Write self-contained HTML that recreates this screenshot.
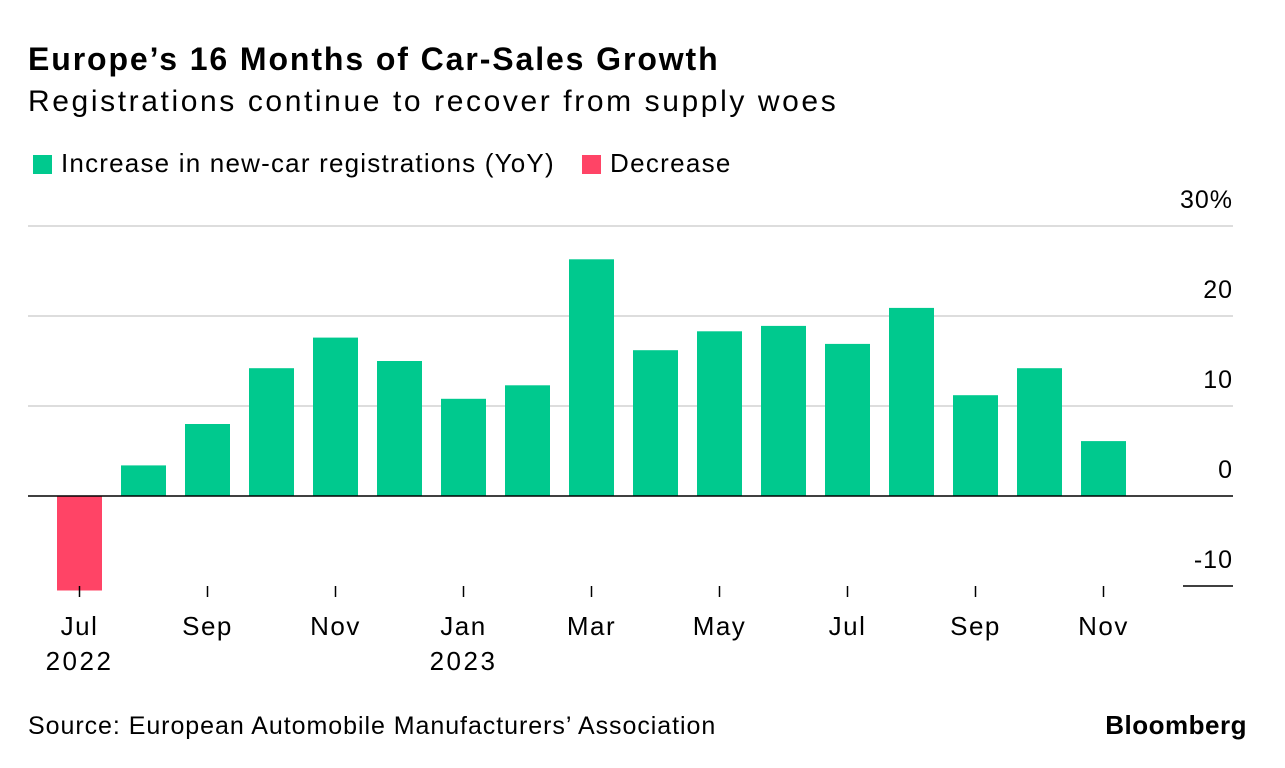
<!DOCTYPE html>
<html><head><meta charset="utf-8"><style>
body{margin:0;width:1285px;height:768px;background:#fff;font-family:"Liberation Sans",sans-serif;color:#000;position:relative;overflow:hidden}
.t{position:absolute;white-space:nowrap}
</style></head><body>
<div class="t" style="left:28px;top:41px;font-size:32px;font-weight:bold;letter-spacing:1.9px">Europe’s 16 Months of Car-Sales Growth</div>
<div class="t" style="left:28px;top:85px;font-size:30px;letter-spacing:2.6px">Registrations continue to recover from supply woes</div>
<div class="t" style="left:33px;top:148px;font-size:26px;letter-spacing:1.2px"><span style="display:inline-block;width:19px;height:19px;background:#00c98e;vertical-align:-2px;margin-right:9px"></span>Increase in new-car registrations (YoY)</div>
<div class="t" style="left:582px;top:148px;font-size:26px;letter-spacing:1.3px"><span style="display:inline-block;width:19px;height:19px;background:#ff4466;vertical-align:-2px;margin-right:9px"></span>Decrease</div>
<svg id="c" width="1285" height="768" style="position:absolute;left:0;top:0"></svg>
<div class="t" style="left:28px;top:712px;font-size:25px;letter-spacing:0.95px">Source: European Automobile Manufacturers’ Association</div>
<div class="t" style="right:38px;top:710px;font-size:26px;font-weight:bold;letter-spacing:0.5px">Bloomberg</div>
<script>
const months=["Jul","Aug","Sep","Oct","Nov","Dec","Jan","Feb","Mar","Apr","May","Jun","Jul","Aug","Sep","Oct","Nov"];
const values=[-10.5,3.4,8.0,14.2,17.6,15.0,10.8,12.3,26.3,16.2,18.3,18.9,16.9,20.9,11.2,14.2,6.1];
const yTicks=[-10,0,10,20,30];
const yTickLabels=["-10","0","10","20","30%"];
const xLabelIdx=[0,2,4,6,8,10,12,14,16];
const yearLabels={0:"2022",6:"2023"};
const NS="http://www.w3.org/2000/svg";
const svg=document.getElementById('c');
const y=v=>496-v*9;
const x=i=>79.5+i*64;
function mk(t,a){const e=document.createElementNS(NS,t);for(const k in a)e.setAttribute(k,a[k]);svg.appendChild(e);return e;}
yTicks.forEach((v,j)=>{
  if(v>0){const l=mk('line',{x1:28,x2:1233,y1:y(v),y2:y(v),stroke:'#ddd','stroke-width':2});
  
  }
  const t=mk('text',{x:1233,y:y(v)-18,'text-anchor':'end','font-size':25,'letter-spacing':1,'font-family':'Liberation Sans, sans-serif'});
  t.textContent=yTickLabels[j];
  
  
});
const m=mk('line',{x1:1183,x2:1233,y1:y(-10),y2:y(-10),stroke:'#000','stroke-width':1.5});


values.forEach((v,i)=>{
  const r=mk('rect',{x:x(i)-22.5,width:45,y:Math.min(y(v),y(0)),height:Math.abs(y(v)-y(0)),fill:v<0?'#ff4466':'#00c98e'});
  
  
});
const z=mk('line',{x1:28,x2:1233,y1:y(0),y2:y(0),stroke:'#000','stroke-width':1.5});


xLabelIdx.forEach(i=>{
  const tk=mk('line',{x1:x(i),x2:x(i),y1:586,y2:597,stroke:'#000','stroke-width':1.5});
  
  
  const t=mk('text',{x:x(i),y:635,'text-anchor':'middle','font-size':26,'letter-spacing':1.5,'font-family':'Liberation Sans, sans-serif'});
  t.textContent=months[i];
  
  
  if(yearLabels[i]){const yt=mk('text',{x:x(i),y:670,'text-anchor':'middle','font-size':26,'letter-spacing':2.5,'font-family':'Liberation Sans, sans-serif'});
  yt.textContent=yearLabels[i];
  
  }
});
</script>
</body></html>
